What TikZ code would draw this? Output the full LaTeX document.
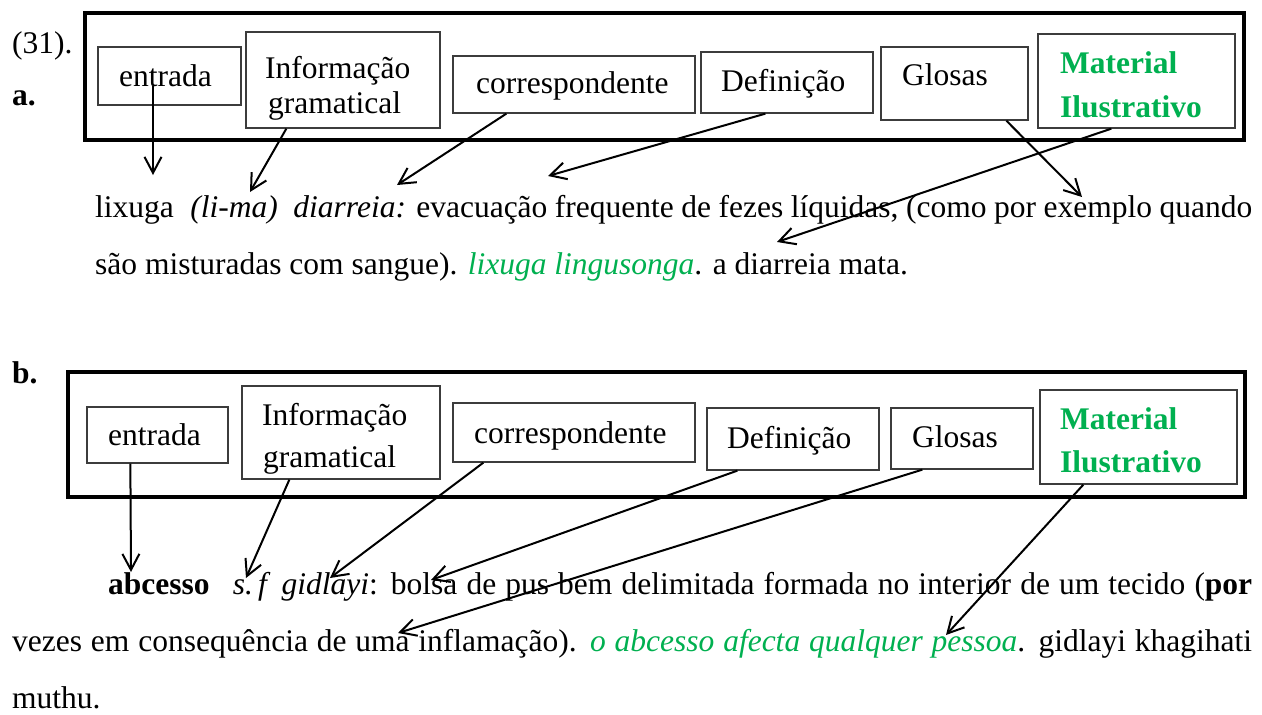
\documentclass[tikz,border=0pt]{standalone}
\usepackage{fontspec}
\setmainfont{Liberation Serif}
\usetikzlibrary{arrows.meta,calc,fit}
\definecolor{mygreen}{RGB}{0,176,80}
\definecolor{boxgray}{RGB}{60,60,60}
\begin{document}
\begin{tikzpicture}[x=1pt,y=-1pt,
  frame/.style={draw=black,line width=4.5pt,inner sep=0pt},
  fieldbox/.style={draw=boxgray,line width=1.3pt,inner sep=0pt},
  lbl/.style={anchor=base west,inner sep=0pt,font=\fontsize{31.5}{38}\selectfont},
  glbl/.style={anchor=base west,inner sep=0pt,text=mygreen,font=\fontsize{31.5}{38}\selectfont\bfseries},
  ptr/.style={line width=2pt,-{Straight Barb[length=16pt,width=17pt,line width=2pt]}},
  body/.style={anchor=base west,inner sep=0pt,font=\fontsize{31.5}{38}\selectfont}]
\useasboundingbox (0,0) rectangle (1262,715);
\fill[white] (0,0) rectangle (1262,715);

% ---------- panel a ----------
\node[lbl] (n31) at (12,53) {(31).};
\node[lbl,font=\fontsize{31.5}{38}\selectfont\bfseries] (la) at (12,105) {a.};
\node[frame,fit={(85,13) (1244,140)}] (aF) {};
\node[fieldbox,fit={(98,47) (241,105)}] (aE) {};
\node[fieldbox,fit={(246,32) (440,128)}] (aI) {};
\node[fieldbox,fit={(453,56) (695,113)}] (aC) {};
\node[fieldbox,fit={(701,52) (873,113)}] (aD) {};
\node[fieldbox,fit={(881,47) (1028,120)}] (aG) {};
\node[fieldbox,fit={(1038,34) (1235,128)}] (aM) {};
\node[lbl] (aEt) at (119,86) {entrada};
\node[lbl] (aIt1) at (265,78) {Informação};
\node[lbl] (aIt2) at (268,113) {gramatical};
\node[lbl] (aCt) at (476,93) {correspondente};
\node[lbl] (aDt) at (721,91) {Definição};
\node[lbl] (aGt) at (902,85) {Glosas};
\node[glbl] (aMt1) at (1060,73) {Material};
\node[glbl] (aMt2) at (1060,117) {Ilustrativo};

\node[body] (a1) at (95,217) {\makebox[1157pt][s]{lixuga\hspace{9pt} \textit{(li-ma)}\hspace{8pt} \textit{diarreia:} evacuação frequente de fezes líquidas, (como por exemplo quando}};
\node[body] (a2) at (95,274) {são misturadas com sangue). \textcolor{mygreen}{\textit{lixuga lingusonga}}. a diarreia mata.};

\coordinate (aEe) at (153,175);
\coordinate (aIe) at (250,192);
\coordinate (aCe) at (397,185);
\coordinate (aDe) at (548,176);
\coordinate (aGe) at (1082,197);
\coordinate (aMe) at (777,242);
\draw[ptr] (aEt.base -| aEe) -- (aEe);
\draw[ptr] ([xshift=41pt]aI.south west) -- (aIe);
\draw[ptr] ([xshift=54pt]aC.south west) -- (aCe);
\draw[ptr] ([xshift=65pt]aD.south west) -- (aDe);
\draw[ptr] ([xshift=126pt]aG.south west) -- (aGe);
\draw[ptr] ([xshift=74pt]aM.south west) -- (aMe);

% ---------- panel b ----------
\node[lbl,font=\fontsize{31.5}{38}\selectfont\bfseries] (lb) at (12,383) {b.};
\node[frame,fit={(68,372) (1245,497)}] (bF) {};
\node[fieldbox,fit={(87,407) (228,463)}] (bE) {};
\node[fieldbox,fit={(242,386) (440,479)}] (bI) {};
\node[fieldbox,fit={(453,403) (695,462)}] (bC) {};
\node[fieldbox,fit={(707,408) (879,470)}] (bD) {};
\node[fieldbox,fit={(891,408) (1033,469)}] (bG) {};
\node[fieldbox,fit={(1040,390) (1237,484)}] (bM) {};
\node[lbl] (bEt) at (108,445) {entrada};
\node[lbl] (bIt1) at (262,425) {Informação};
\node[lbl] (bIt2) at (263,467) {gramatical};
\node[lbl] (bCt) at (474,443) {correspondente};
\node[lbl] (bDt) at (727,448) {Definição};
\node[lbl] (bGt) at (912,447) {Glosas};
\node[glbl] (bMt1) at (1060,429) {Material};
\node[glbl] (bMt2) at (1060,472) {Ilustrativo};

\node[body] (b1) at (108,594) {\makebox[1144pt][s]{\textbf{abcesso}\hspace{14pt} \textit{s.\,f}\hspace{2pt} \textit{gidlayi}: bolsa de pus bem delimitada formada no interior de um tecido (\textbf{por}}};
\node[body] (b2) at (12,651) {\makebox[1240pt][s]{vezes em consequência de uma inflamação). \textcolor{mygreen}{\textit{o abcesso afecta qualquer pessoa}}. gidlayi khagihati}};
\node[body] (b3) at (12,708) {muthu.};

\coordinate (bEe) at (131,572);
\coordinate (bIe) at (246,578);
\coordinate (bCe) at (330,578);
\coordinate (bDe) at (431,580);
\coordinate (bGe) at (398,633);
\coordinate (bMe) at (946,635);
\draw[ptr] ([xshift=44pt]bE.south west) -- (bEe);
\draw[ptr] ([xshift=48pt]bI.south west) -- (bIe);
\draw[ptr] ([xshift=31pt]bC.south west) -- (bCe);
\draw[ptr] ([xshift=31pt]bD.south west) -- (bDe);
\draw[ptr] ([xshift=32pt]bG.south west) -- (bGe);
\draw[ptr] ([xshift=44pt]bM.south west) -- (bMe);
\end{tikzpicture}
\end{document}
